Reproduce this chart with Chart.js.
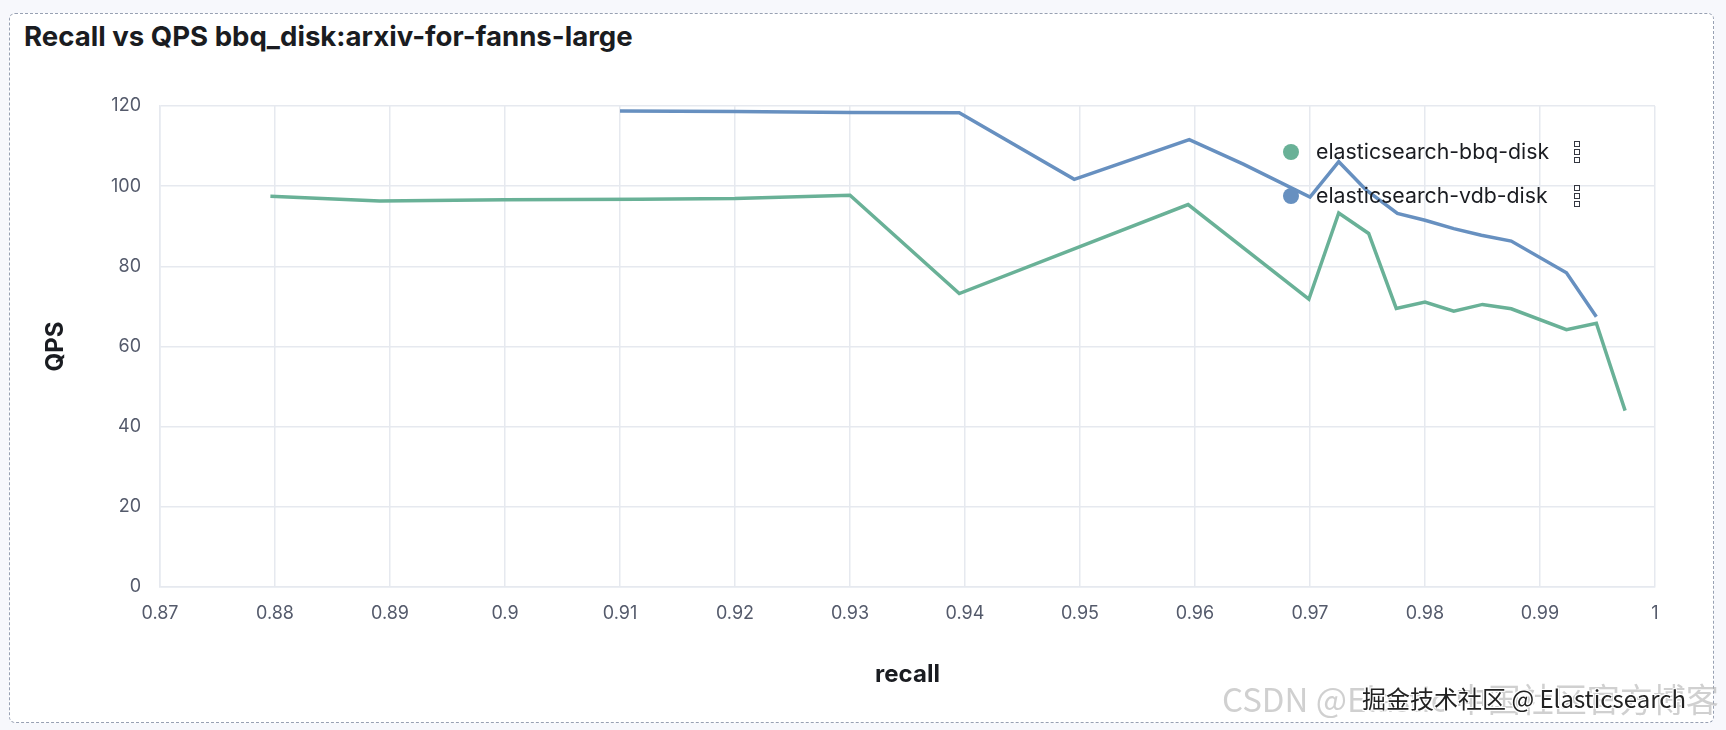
<!DOCTYPE html>
<html>
<head>
<meta charset="utf-8">
<script src="https://cdn.jsdelivr.net/npm/chart.js@4"></script>
<style>
  html, body { margin: 0; padding: 0; }
  body { width: 1726px; height: 730px; background: #f7f8fc; position: relative; overflow: hidden; font-family: Inter, "Noto Sans", sans-serif; }
  #panel { position: absolute; left: 9px; top: 13px; width: 1703px; height: 708px; background: #fff; border: 1.5px dashed #98a1b3; border-radius: 6px; }
  #title { position: absolute; left: 24px; top: 19px; font-size: 27.6px; font-weight: 700; color: #1a1c21; white-space: nowrap; }
  #wrap { position: absolute; left: 0; top: 0; width: 1726px; height: 730px; }
  #legend { position: absolute; left: 1283px; top: 130px; }
  .item { position: relative; height: 44px; }
  .dot { position: absolute; left: 0; top: 14px; width: 16px; height: 16px; border-radius: 50%; }
  .lab { position: absolute; left: 33px; top: 8px; font-size: 21.3px; color: #1a1c21; white-space: nowrap; }
  .grip { position: absolute; left: 291px; top: 11px; width: 7px; display: flex; flex-direction: column; gap: 2px; }
  .grip i { display: block; width: 4px; height: 4px; border: 1.3px solid #343741; }
  .wm1 { position: absolute; left: 1222px; top: 674px; font-family: "Noto Sans CJK SC"; font-size: 33px; color: rgba(170,170,170,0.55); white-space: nowrap; }
  .wm2 { position: absolute; left: 1362px; top: 680px; font-family: "Noto Sans CJK SC"; font-size: 24px; color: #222; white-space: nowrap;
         text-shadow: 1px 1px 0 #fff, -1px -1px 0 #fff, 1px -1px 0 #fff, -1px 1px 0 #fff; }
</style>
</head>
<body>
<div id="panel"></div>
<div id="title">Recall vs QPS bbq_disk:arxiv-for-fanns-large</div>
<div id="wrap"><canvas id="chart"></canvas></div>
<div id="legend"></div>
<div class="wm1">CSDN @Elastic 中国社区官方博客</div>
<div class="wm2">掘金技术社区 @ Elasticsearch</div>
<script>
// values
const bbqRecall = [0.8796, 0.8891, 0.9000, 0.9117, 0.9200, 0.9300, 0.9395, 0.9594, 0.9699, 0.9725, 0.9751, 0.9775, 0.9800, 0.9825, 0.9850, 0.9875, 0.9923, 0.9949, 0.9974]
const bbqQps = [97.5, 96.3, 96.6, 96.75, 96.9, 97.75, 73.2, 95.4, 71.8, 93.3, 88.2, 69.5, 71.1, 68.8, 70.5, 69.4, 64.2, 65.8, 44.0]

const vdbRecall = [0.9100, 0.9200, 0.9300, 0.9395, 0.9495, 0.9595, 0.9642, 0.9700, 0.9725, 0.9749, 0.9776, 0.9800, 0.9825, 0.9849, 0.9875, 0.9923, 0.9949]
const vdbQps = [118.75, 118.6, 118.4, 118.3, 101.7, 111.6, 105.5, 97.3, 106.1, 99.0, 93.2, 91.5, 89.4, 87.75, 86.3, 78.4, 67.4]

const seriesNames = ["elasticsearch-bbq-disk", "elasticsearch-vdb-disk"]
const seriesColours = ["#69b197", "#6790c0"]

const recallTicks = [0.87, 0.88, 0.89, 0.90, 0.91, 0.92, 0.93, 0.94, 0.95, 0.96, 0.97, 0.98, 0.99, 1]
const recallTickLabels = ["0.87", "0.88", "0.89", "0.9", "0.91", "0.92", "0.93", "0.94", "0.95", "0.96", "0.97", "0.98", "0.99", "1"]
const qpsTicks = [0, 20, 40, 60, 80, 100, 120]

const toPoints = (xs, ys) => xs.map((x, i) => ({x: x, y: ys[i]}))

const datasets = [
  {label: seriesNames[0], data: toPoints(bbqRecall, bbqQps)},
  {label: seriesNames[1], data: toPoints(vdbRecall, vdbQps)}
].map((d, i) => Object.assign(d, {
  borderColor: seriesColours[i], backgroundColor: seriesColours[i],
  borderWidth: 3.5, pointRadius: 0, tension: 0, fill: false
}))

const gridColour = "#e6e9ef"
const tickFont = {family: "Inter", size: 18}
const titleFont = {family: "Inter", size: 24, weight: "bold"}

new Chart("chart", {
  type: "line",
  data: {datasets: datasets},
  options: {
    responsive: true, maintainAspectRatio: false, animation: false,
    layout: {padding: {left: 30, right: 71, top: 106, bottom: 40}},
    plugins: {legend: {display: false}, tooltip: {enabled: false}},
    scales: {
      x: {
        type: "linear", min: 0.87, max: 1,
        afterBuildTicks: s => { s.ticks = recallTicks.map(v => ({value: v})) },
        afterFit: s => { s.height = 103 },
        ticks: {font: tickFont, color: "#545a6b", padding: 16, maxRotation: 0, autoSkip: false,
                callback: (v, i) => recallTickLabels[i]},
        grid: {color: gridColour, lineWidth: 1.5, drawTicks: false},
        border: {color: gridColour, width: 1.5},
        title: {display: true, text: "recall", font: titleFont, color: "#1a1c21", padding: {top: 0, bottom: 1}}
      },
      y: {
        min: 0, max: 120,
        afterBuildTicks: s => { s.ticks = qpsTicks.map(v => ({value: v})) },
        afterFit: s => { s.width = 130 },
        ticks: {font: tickFont, color: "#545a6b", padding: 19},
        grid: {color: gridColour, lineWidth: 1.5, drawTicks: false},
        border: {color: gridColour, width: 1.5},
        title: {display: true, text: "QPS", font: titleFont, color: "#1a1c21", padding: {top: 11, bottom: 0}}
      }
    }
  }
})

// legend drawn as html over the plot, like the original dashboard
const legend = document.getElementById("legend")
seriesNames.forEach((name, i) => {
  const row = document.createElement("div")
  row.className = "item"
  row.innerHTML = '<span class="dot" style="background:' + seriesColours[i] + '"></span>' +
    '<span class="lab">' + name + '</span><span class="grip"><i></i><i></i><i></i></span>'
  legend.appendChild(row)
})
</script>
</body>
</html>
